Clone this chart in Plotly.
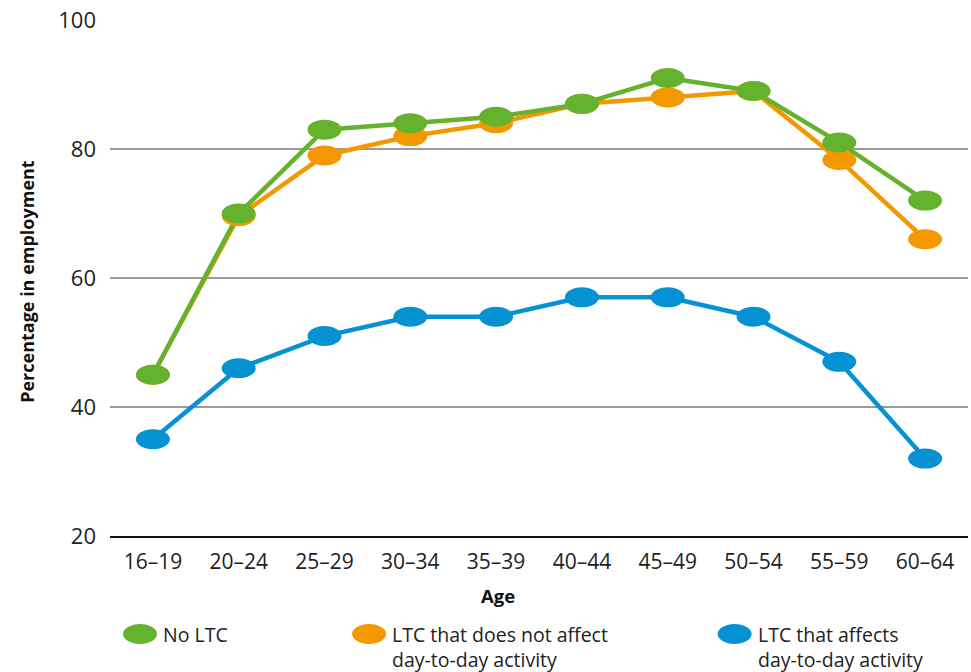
import plotly.graph_objects as go

ages = ["16–19", "20–24", "25–29", "30–34", "35–39", "40–44", "45–49", "50–54", "55–59", "60–64"]
no_ltc = [45, 70, 83, 84, 85, 87, 91, 89, 81, 72]
ltc_not_affecting = [45, 69.6, 79, 82, 84, 87, 88, 89, 78.3, 66]
ltc_affecting = [35, 46, 51, 54, 54, 57, 57, 54, 47, 32]
y_ticks = [20, 40, 60, 80, 100]

series = [
    ("LTC that affects<br>day-to-day activity", ltc_affecting, "#0592d3"),
    ("LTC that does not affect<br>day-to-day activity", ltc_not_affecting, "#f39801"),
    ("No LTC", no_ltc, "#65b22e"),
]

FONT = "Open Sans"
fig = go.Figure()
shapes = []

for name, vals, color in series:
    fig.add_trace(go.Scatter(
        x=list(range(len(ages))), y=vals, mode="lines", name=name,
        line=dict(color=color, width=4.5), showlegend=False, hoverinfo="skip",
    ))
    # elliptical point markers, sized in pixels and anchored at the data values
    for i, v in enumerate(vals):
        shapes.append(dict(
            type="circle", xref="x", yref="y",
            xsizemode="pixel", ysizemode="pixel",
            xanchor=i, yanchor=v, x0=-17, x1=17, y0=-10, y1=10,
            fillcolor=color, line=dict(width=0), layer="above",
        ))

# legend drawn as ellipse swatches with text beside them
legend_items = [
    ("No LTC", "#65b22e", 0.035),
    ("LTC that does not affect<br>day-to-day activity", "#f39801", 0.302),
    ("LTC that affects<br>day-to-day activity", "#0592d3", 0.728),
]
annotations = []
for label, color, px in legend_items:
    shapes.append(dict(
        type="circle", xref="paper", yref="paper",
        xsizemode="pixel", ysizemode="pixel",
        xanchor=px, yanchor=-0.190, x0=-17, x1=17, y0=-10, y1=10,
        fillcolor=color, line=dict(width=0),
    ))
    annotations.append(dict(
        text=label, xref="paper", yref="paper", x=px, y=-0.190,
        xshift=21, yshift=15, xanchor="left", yanchor="top", align="left",
        showarrow=False, font=dict(family=FONT, size=19.5, color="#222"),
    ))

annotations.append(dict(
    text="<b>Age</b>", xref="paper", yref="paper", x=0.452, y=-0.116,
    xanchor="center", yanchor="middle", showarrow=False,
    font=dict(family=FONT, size=18.5, color="#111"),
))
annotations.append(dict(
    text="<b>Percentage in employment</b>", xref="paper", yref="paper",
    x=-0.097, y=0.494, textangle=-90, xanchor="center", yanchor="middle",
    showarrow=False, font=dict(family=FONT, size=18, color="#111"),
))

fig.update_layout(
    width=971, height=672,
    margin=dict(l=110, r=3, t=20, b=136),
    paper_bgcolor="white", plot_bgcolor="white",
    font=dict(family=FONT, size=19.5, color="#222"),
    shapes=shapes, annotations=annotations,
    showlegend=False,
)
fig.update_xaxes(
    range=[-0.5, len(ages) - 0.5], tickvals=list(range(len(ages))), ticktext=ages,
    tickfont=dict(family=FONT, size=21, color="#222"),
    showgrid=False, showline=True, linecolor="#111", linewidth=2,
    ticks="", ticklabelstandoff=6, zeroline=False,
)
fig.update_yaxes(
    range=[20, 100], tickvals=y_ticks, showgrid=True, gridcolor="#9a9a9a",
    tickfont=dict(family=FONT, size=22, color="#222"),
    gridwidth=1.5, showline=False, zeroline=False, ticks="",
    ticklabelstandoff=13,
)

fig.write_html("out.html")
